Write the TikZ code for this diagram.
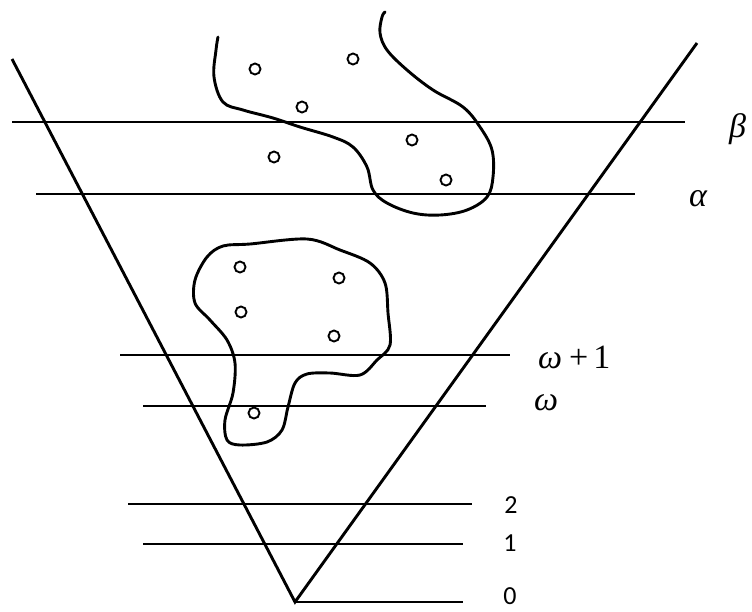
\documentclass[tikz,border=0pt]{standalone}
\usepackage{fontspec}
\newfontfamily\digitfont{Carlito}
\newfontfamily\greekfont{Liberation Serif}
\begin{document}
\begin{tikzpicture}[x=1pt,y=-1pt,
  vline/.style={line width=2.9pt},
  hline/.style={line width=2.4pt},
  blob/.style={line width=2.9pt, line join=round, line cap=round},
  pt/.style={circle, draw, line width=1.9pt, minimum size=11pt, inner sep=0pt},
  mlabel/.style={inner sep=0pt, font=\greekfont\fontsize{34}{40}\selectfont},
  dlabel/.style={inner sep=0pt, font=\digitfont\fontsize{26}{30}\selectfont}]
\useasboundingbox (0,0) rectangle (752,611);
% V shape
\coordinate (vl) at (12,59);
\coordinate (vb) at (295,602);
\coordinate (vr) at (697,43);
\draw[vline] (vl) -- (vb) -- (vr);
% horizontal levels
\coordinate (b1) at (12,122);  \coordinate (b2) at (685,122);
\coordinate (a1) at (36,194);  \coordinate (a2) at (635,194);
\coordinate (w11) at (120,355); \coordinate (w12) at (510,355);
\coordinate (w1) at (143,406); \coordinate (w2) at (486,406);
\coordinate (t1) at (128,504); \coordinate (t2) at (472,504);
\coordinate (o1) at (143,544); \coordinate (o2) at (463,544);
\coordinate (z2) at (463,602);
\draw[hline] (b1) -- (b2);
\draw[hline] (a1) -- (a2);
\draw[hline] (w11) -- (w12);
\draw[hline] (w1) -- (w2);
\draw[hline] (t1) -- (t2);
\draw[hline] (o1) -- (o2);
\draw[hline] (vb) -- (z2);
% labels
\node[mlabel, anchor=west] (lb) at (729,129) {\itshape β};
\node[mlabel, anchor=west] (la) at (689,199) {\itshape α};
\node[mlabel, anchor=west] (lw1) at (538,357) {{\itshape ω}\hspace{7pt}+\hspace{5pt}1};
\node[mlabel, anchor=west] (lw) at (534,403) {\itshape ω};
\node[dlabel] (l2) at (511,505) {2};
\node[dlabel] (l1) at (510,543) {1};
\node[dlabel] (l0) at (510,596) {0};
% upper blob (open curve)
\draw[blob] plot[smooth, tension=0.6] coordinates {
 (218,37) (216,50) (214,77) (223,102) (243,110) (273,118) (300,127)
 (333,137) (353,147) (367,167) (373,190) (387,203) (413,213) (440,215)
 (467,210) (487,197) (493,177) (492,150) (480,127) (463,107) (433,90)
 (407,70) (387,50) (380,33) (382,17) (385,12)};
% lower blob (closed curve)
\draw[blob] plot[smooth cycle, tension=0.55] coordinates {
 (250,244) (307,239) (340,250) (370,263) (385,283) (388,313) (390,345)
 (377,360) (360,375) (330,373) (307,374) (295,383) (288,407) (282,430)
 (267,442) (240,445) (227,440) (225,420) (233,393) (235,363) (227,340)
 (210,320) (195,303) (195,280) (207,257) (223,246)};
% points
\node[pt] (p1) at (255,69) {};
\node[pt] (p2) at (353,59) {};
\node[pt] (p3) at (302,107) {};
\node[pt] (p4) at (274,157) {};
\node[pt] (p5) at (412,140) {};
\node[pt] (p6) at (446,180) {};
\node[pt] (q1) at (240,267) {};
\node[pt] (q2) at (339,278) {};
\node[pt] (q3) at (241,312) {};
\node[pt] (q4) at (334,336) {};
\node[pt] (q5) at (254,413) {};
\end{tikzpicture}
\end{document}
